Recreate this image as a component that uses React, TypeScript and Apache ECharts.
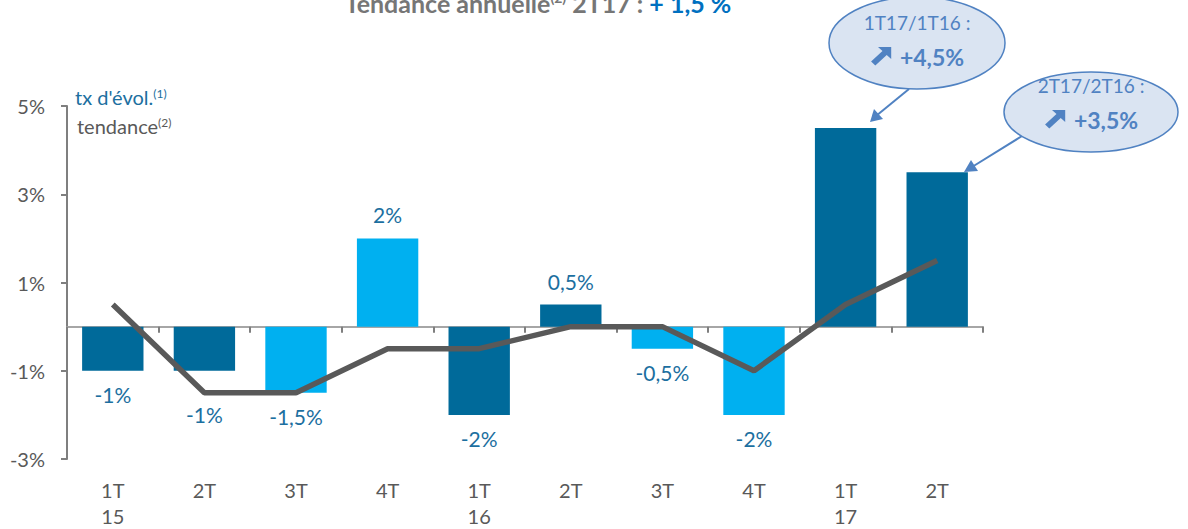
import React, { useEffect, useRef } from "react";
import * as echarts from "echarts";

const categories = ["1T\n15", "2T", "3T", "4T", "1T\n16", "2T", "3T", "4T", "1T\n17", "2T"];
const growthValues = [-1, -1, -1.5, 2, -2, 0.5, -0.5, -2, 4.5, 3.5];
const trendValues = [0.5, -1.5, -1.5, -0.5, -0.5, 0, 0, -1, 0.5, 1.5];
const lightBars = [false, false, true, true, false, false, true, true, false, false];
const showLabel = [true, true, true, true, true, true, true, true, false, false];
const yTicks = { min: -3, max: 5, interval: 2 };

const DARK = "#006A9A";
const LIGHT = "#00B0F0";
const LABEL = "#1C6FA0";
const FONT = "Lato, 'Open Sans', sans-serif";
const CALLOUT = "#5082C2";

const arrowPts = [
  [5, 0], [16, 0], [16, 11], [12.27, 7.27], [2.77, 16.77], [-0.77, 13.23], [8.73, 3.73],
];

export default function App() {
  const ref = useRef<HTMLDivElement>(null);
  useEffect(() => {
    const chart = echarts.init(ref.current!, null, { renderer: "svg" });
    const barData = growthValues.map((v, i) => ({
      value: v,
      itemStyle: { color: lightBars[i] ? LIGHT : DARK },
      label: {
        show: showLabel[i],
        position: v >= 0 ? "top" : "bottom",
        distance: i === 1 ? 33 : 13,
      },
    }));
    const callout = (cx: number, cy: number, rx: number, ry: number, line1: string, line2: string, ty: number) => [
      {
        type: "ellipse",
        shape: { cx, cy, rx, ry },
        style: { fill: "#DAE4F2", stroke: CALLOUT, lineWidth: 1.5 },
        z: 10,
      },
      {
        type: "text",
        x: cx,
        y: ty,
        style: { text: line1, fill: CALLOUT, font: `19px ${FONT}`, align: "center", verticalAlign: "middle" },
        z: 11,
      },
      {
        type: "polygon",
        x: cx - 45,
        y: ty + 25,
        scaleX: 1.2,
        scaleY: 1.1,
        shape: { points: arrowPts },
        style: { fill: CALLOUT },
        z: 11,
      },
      {
        type: "text",
        x: cx + 15,
        y: ty + 35,
        style: { text: line2, fill: CALLOUT, font: `bold 23px ${FONT}`, align: "center", verticalAlign: "middle" },
        z: 11,
      },
    ];
    chart.setOption({
      animation: false,
      grid: { left: 67, right: 205, top: 106, bottom: 65 },
      xAxis: [
        {
          type: "category",
          data: categories,
          axisLine: { onZero: true, lineStyle: { color: "#A6A6A6", width: 2 } },
          axisTick: { show: true, length: 6, lineStyle: { color: "#7F7F7F", width: 2 } },
          axisLabel: { show: false },
        },
        {
          type: "category",
          data: categories,
          position: "bottom",
          axisLine: { show: false, onZero: false },
          axisTick: { show: false },
          axisLabel: {
            margin: 18,
            color: "#595959",
            fontFamily: FONT,
            fontSize: 20,
            lineHeight: 26,
            align: "center",
            verticalAlign: "top",
          },
        },
      ],
      yAxis: {
        type: "value",
        min: yTicks.min,
        max: yTicks.max,
        interval: yTicks.interval,
        splitLine: { show: false },
        axisLine: { show: true, lineStyle: { color: "#7F7F7F", width: 2 } },
        axisTick: { show: true, length: 6, lineStyle: { color: "#7F7F7F", width: 2 } },
        axisLabel: {
          margin: 22,
          color: "#595959",
          fontFamily: FONT,
          fontSize: 20,
          formatter: (v: number) => `${v}%`,
        },
      },
      series: [
        {
          type: "bar",
          xAxisIndex: 0,
          data: barData,
          barCategoryGap: "33%",
          label: {
            color: LABEL,
            fontFamily: FONT,
            fontSize: 21,
            formatter: (p: any) => `${String(p.value).replace(".", ",")}%`,
          },
          z: 2,
        },
        {
          type: "line",
          xAxisIndex: 0,
          data: trendValues,
          symbol: "none",
          lineStyle: { color: "#595959", width: 5.5 },
          itemStyle: { color: "#595959" },
          z: 3,
        },
      ],
      graphic: [
        {
          type: "text",
          x: 538,
          y: 3,
          style: {
            text: "{g|Tendance annuelle}{s|(2)}{g| 2T17 : }{b|+ 1,5 %}",
            align: "center",
            verticalAlign: "middle",
            rich: {
              g: { fill: "#767676", font: `bold 25px ${FONT}` },
              s: { fill: "#767676", font: `bold 14px ${FONT}`, verticalAlign: "top" },
              b: { fill: "#0070C0", font: `bold 25px ${FONT}` },
            },
          },
        },
        {
          type: "text",
          x: 75,
          y: 97,
          style: {
            text: "{a|tx d'évol.}{s|(1)}",
            verticalAlign: "middle",
            rich: {
              a: { fill: LABEL, font: `20px ${FONT}` },
              s: { fill: LABEL, font: `12px ${FONT}`, verticalAlign: "top" },
            },
          },
        },
        {
          type: "text",
          x: 77,
          y: 126,
          style: {
            text: "{a|tendance}{s|(2)}",
            verticalAlign: "middle",
            rich: {
              a: { fill: "#595959", font: `20px ${FONT}` },
              s: { fill: "#595959", font: `12px ${FONT}`, verticalAlign: "top" },
            },
          },
        },
        {
          type: "line",
          shape: { x1: 909, y1: 89, x2: 876, y2: 116 },
          style: { stroke: CALLOUT, lineWidth: 2 },
        },
        {
          type: "polygon",
          shape: { points: [[870, 122], [874, 109], [883, 119]] },
          style: { fill: CALLOUT },
        },
        {
          type: "line",
          shape: { x1: 1022, y1: 136, x2: 972, y2: 167 },
          style: { stroke: CALLOUT, lineWidth: 2 },
        },
        {
          type: "polygon",
          shape: { points: [[964, 172], [971, 160], [978, 171]] },
          style: { fill: CALLOUT },
        },
        ...callout(917, 43, 88, 46, "1T17/1T16 :", "+4,5%", 22),
        ...callout(1091, 112, 87, 40, "2T17/2T16 :", "+3,5%", 85),
      ],
    });
    return () => chart.dispose();
  }, []);
  return (
    <div
      ref={ref}
      style={{ position: "fixed", left: 0, top: 0, width: 1188, height: 529, background: "#fff" }}
    />
  );
}
